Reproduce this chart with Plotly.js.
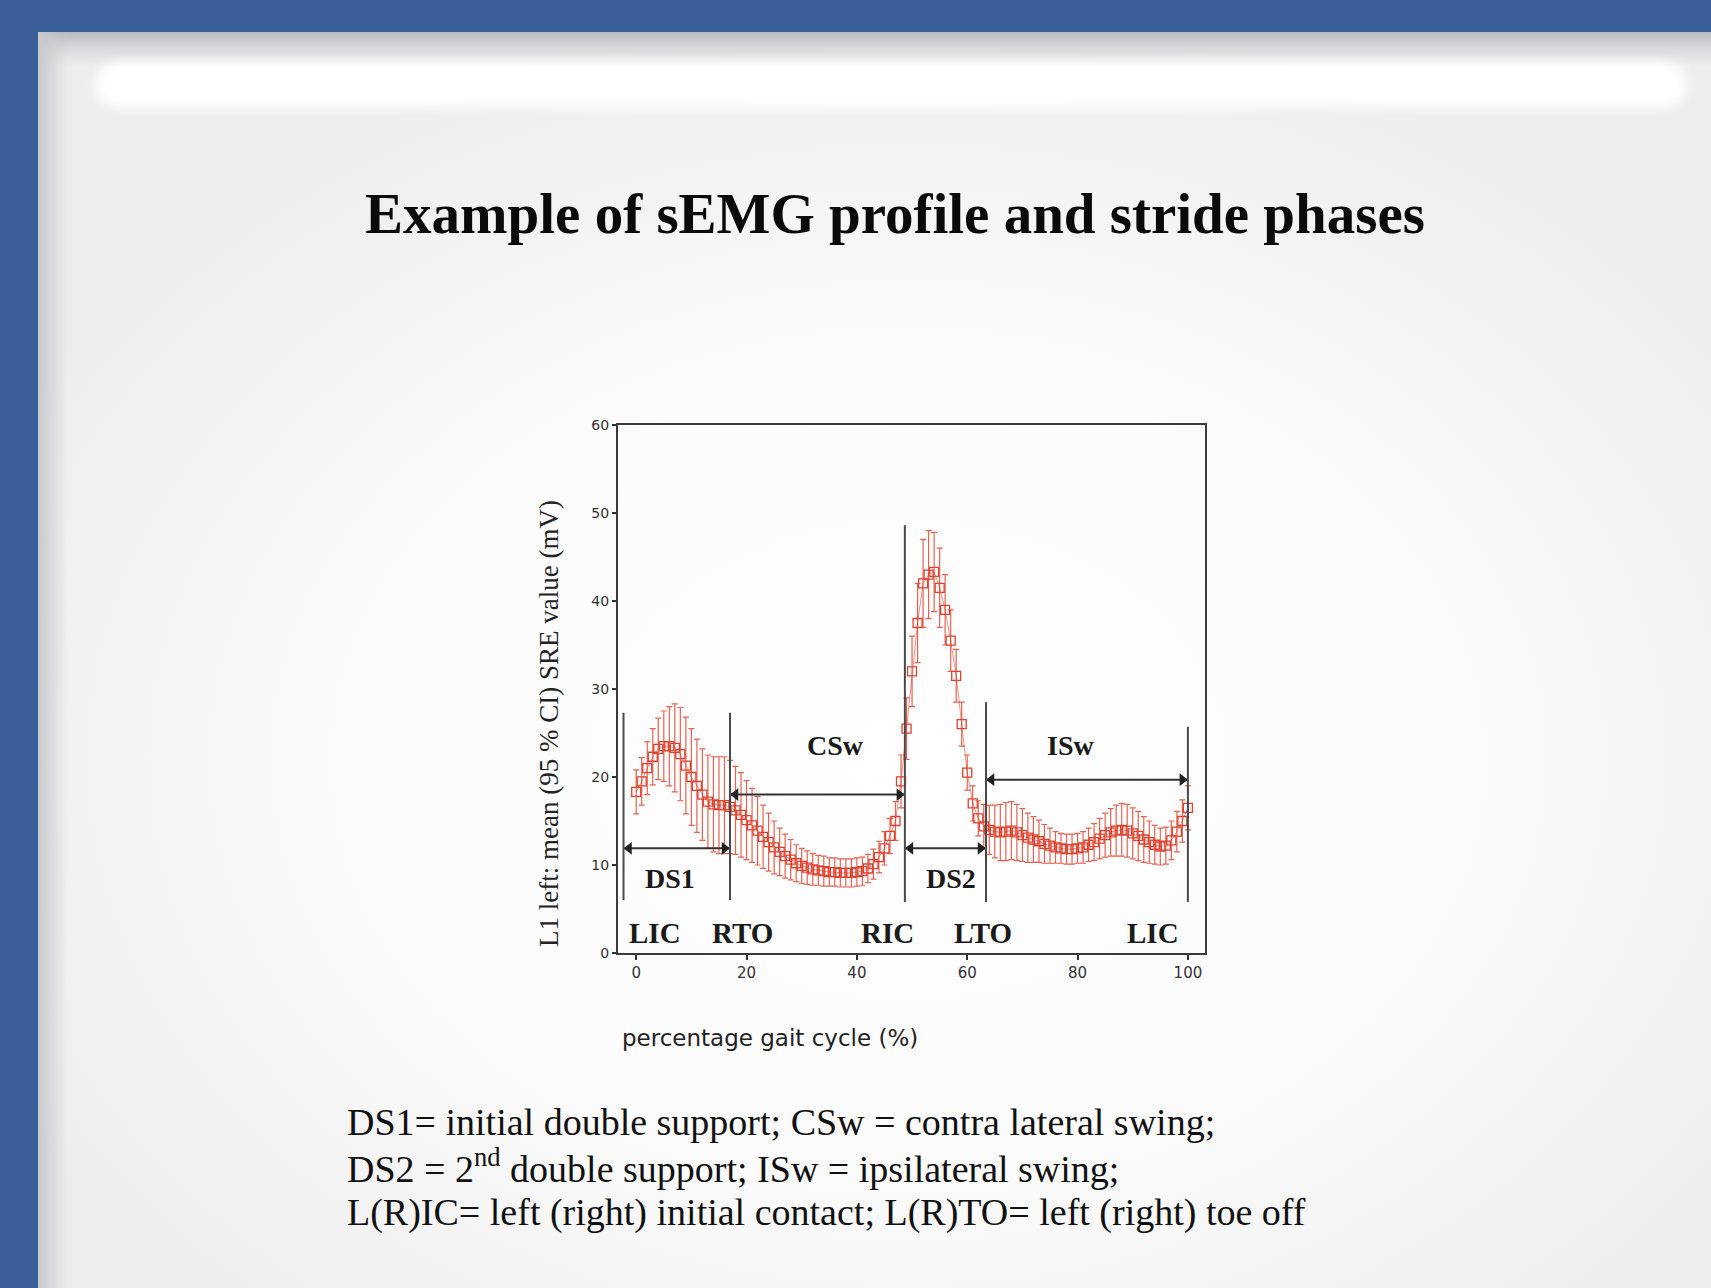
<!DOCTYPE html>
<html>
<head>
<meta charset="utf-8">
<script src="https://cdn.plot.ly/plotly-3.0.1.min.js"></script>
<style>
html,body{margin:0;padding:0;width:1711px;height:1288px;overflow:hidden;background:#3a5e99;}
#slide{position:absolute;left:38px;top:32px;right:0;bottom:0;
 background:radial-gradient(ellipse 60% 60% at 52% 58%, #ffffff 0%, #fbfbfb 55%, #ededed 100%);}
#topshade{position:absolute;left:38px;top:32px;right:0;height:34px;
 background:linear-gradient(to bottom,#b7b8c1 0%,#d8d8da 45%,rgba(235,235,235,0) 100%);}
#leftshade{position:absolute;left:38px;top:32px;width:30px;bottom:0;
 background:linear-gradient(to right,#c9c9cd 0%,rgba(236,236,236,0) 100%);}
#strip{position:absolute;left:95px;top:62px;width:1592px;height:46px;background:#ffffff;border-radius:22px;filter:blur(6px);}
#chart{position:absolute;left:0;top:0;width:1711px;height:1288px;}
</style>
</head>
<body>
<div id="slide"></div>
<div id="topshade"></div>
<div id="leftshade"></div>
<div id="strip"></div>
<div id="chart"></div>
<script>
// ---- data ----
const gaitCyclePct = [0,1,2,3,4,5,6,7,8,9,10,11,12,13,14,15,16,17,18,19,20,
 21,22,23,24,25,26,27,28,29,30,31,32,33,34,35,36,37,38,39,40,
 41,42,43,44,45,46,47,48,49,50,51,52,53,54,55,56,57,58,59,60,
 61,62,63,64,65,66,67,68,69,70,71,72,73,74,75,76,77,78,79,80,
 81,82,83,84,85,86,87,88,89,90,91,92,93,94,95,96,97,98,99,100];
const meanSRE = [18.3,19.5,21.0,22.3,23.2,23.5,23.5,23.3,22.6,21.3,20.0,
 19.0,18.0,17.2,16.9,16.8,16.8,16.6,16.2,15.7,15.1,
 14.5,13.9,13.2,12.6,12.0,11.5,11.0,10.6,10.2,9.9,
 9.7,9.5,9.4,9.3,9.2,9.2,9.1,9.1,9.1,9.2,
 9.3,9.6,10.1,10.9,11.9,13.3,15.0,19.5,25.5,32.0,
 37.5,42.0,43.0,43.3,41.5,39.0,35.5,31.5,26.0,20.5,
 17.0,15.3,14.4,14.0,13.8,13.7,13.8,13.9,13.7,13.4,
 13.1,12.9,12.7,12.4,12.2,12.0,11.9,11.8,11.8,11.9,
 12.0,12.3,12.6,13.0,13.4,13.7,13.9,14.0,13.9,13.6,
 13.3,12.9,12.6,12.3,12.1,12.2,12.8,13.8,15.0,16.5];
const ci95 = [2.5,2.7,3.0,3.2,3.5,4.0,4.5,5.0,5.3,5.5,5.5,
 5.3,5.2,5.3,5.4,5.5,5.5,5.3,5.0,4.8,4.5,
 4.2,3.9,3.6,3.3,3.0,2.7,2.5,2.3,2.1,2.0,
 1.9,1.8,1.7,1.7,1.6,1.6,1.6,1.6,1.6,1.6,
 1.6,1.6,1.7,1.8,1.9,2.0,2.2,3.0,3.5,4.0,
 4.5,5.0,5.0,4.5,4.5,4.0,3.5,3.0,2.5,2.0,
 2.0,2.0,2.5,2.8,3.0,3.2,3.3,3.3,3.2,3.0,
 2.8,2.6,2.4,2.2,2.0,1.8,1.7,1.7,1.7,1.7,
 1.8,1.9,2.1,2.3,2.5,2.7,2.9,3.0,3.0,2.9,
 2.8,2.6,2.4,2.2,2.1,2.1,2.2,2.3,2.4,2.5];
// gait events (vertical markers)
const eventNames = ["LIC","RTO","RIC","LTO","LIC"];
const eventX = [-2.3, 17, 48.7, 63.4, 100];
const eventTop = [27.3, 27.3, 48.6, 28.5, 25.7];
const eventBottom = [6, 6, 5.8, 5.8, 5.8];
// phases (double arrows)
const phaseNames = ["DS1","CSw","DS2","ISw"];
const phaseStart = [-2.3, 17, 48.7, 63.4];
const phaseEnd = [17, 48.7, 63.4, 100];
const phaseArrowY = [11.9, 18.0, 11.9, 19.7];
const xTicks = [0,20,40,60,80,100];
const yTicks = [0,10,20,30,40,50,60];

// ---- layout helpers (pixel geometry) ----
const L=618, R=1205, T=425, B=953;
const px = x => (x-L)/(R-L);
const py = y => (B-y)/(B-T);
const unitX = (R-L)/(103.1+3.3);   // pixels per x unit
const headSize = 11;
const headOff = (headSize/2)/unitX; // pull marker centres inside so the tips touch the lines

const traces = [];
traces.push({
  x: gaitCyclePct, y: meanSRE, type:'scatter', mode:'lines+markers',
  line:{color:'rgba(225,55,35,0.55)', width:1},
  marker:{symbol:'square-open', size:9, color:'#e0402c', line:{width:1.3, color:'#e0402c'}},
  error_y:{type:'data', array:ci95, visible:true, color:'rgba(226,72,52,0.85)', thickness:1.2, width:3},
  showlegend:false, hoverinfo:'x+y'
});
// double-headed phase arrows
phaseNames.forEach((n,i)=>{
  traces.push({x:[phaseStart[i], phaseEnd[i]], y:[phaseArrowY[i], phaseArrowY[i]], type:'scatter', mode:'lines',
    line:{color:'#333', width:2}, showlegend:false, hoverinfo:'skip'});
  traces.push({x:[phaseStart[i]+headOff, phaseEnd[i]-headOff], y:[phaseArrowY[i], phaseArrowY[i]], type:'scatter', mode:'markers',
    marker:{symbol:['triangle-left','triangle-right'], size:headSize, color:'#222', line:{width:0}}, showlegend:false, hoverinfo:'skip'});
});

const shapes = eventX.map((x,i)=>({type:'line', xref:'x', yref:'y', x0:x, x1:x, y0:eventBottom[i], y1:eventTop[i],
  line:{color:'#4a4a4a', width:2}, layer:'above'}));

const annotations = [];
const phaseLabelX = [6.2, 36.2, 57.1, 78.8];
const phaseLabelY = [8.5, 23.6, 8.5, 23.6];
phaseNames.forEach((n,i)=>{
  annotations.push({xref:'x', yref:'y', x:phaseLabelX[i], y:phaseLabelY[i], text:'<b>'+n+'</b>', showarrow:false,
    font:{family:'Liberation Serif, Times New Roman, serif', size:28, color:'#1a1a1a'}});
});
const eventLabelX = [3.4, 19.2, 45.5, 62.9, 93.7];
eventNames.forEach((n,i)=>{
  annotations.push({xref:'x', yref:'y', x:eventLabelX[i], y:2.3, text:'<b>'+n+'</b>', showarrow:false,
    font:{family:'Liberation Serif, Times New Roman, serif', size:29, color:'#1a1a1a'}});
});
// axis titles
annotations.push({xref:'paper', yref:'paper', x:px(549), y:py(724), text:'L1 left: mean (95 % CI) SRE value (mV)', textangle:-90,
  showarrow:false, xanchor:'center', yanchor:'middle', font:{family:'Liberation Serif, Times New Roman, serif', size:27, color:'#222'}});
annotations.push({xref:'paper', yref:'paper', x:px(770), y:py(1038), text:'percentage gait cycle (%)',
  showarrow:false, xanchor:'center', yanchor:'middle', font:{family:'DejaVu Sans, sans-serif', size:23, color:'#222'}});
// footnote
const notes = ["DS1= initial double support; CSw = contra lateral swing;",
  "DS2 = 2<sup>nd</sup> double support; ISw = ipsilateral swing;",
  "L(R)IC= left (right) initial contact; L(R)TO= left (right) toe off"];
const noteY = [1122, 1166, 1212];
notes.forEach((t,i)=>{
  annotations.push({xref:'paper', yref:'paper', x:px(345), y:py(noteY[i]), text:t, showarrow:false, xanchor:'left', yanchor:'middle', align:'left',
    font:{family:'Liberation Serif, Times New Roman, serif', size:38, color:'#111'}});
});

const layout = {
  width:1711, height:1288,
  margin:{l:L, r:1711-R, t:T, b:1288-B, pad:0},
  paper_bgcolor:'rgba(0,0,0,0)', plot_bgcolor:'rgba(0,0,0,0)',
  title:{text:'<b>Example of sEMG profile and stride phases</b>', xref:'container', yref:'container',
    x:895/1711, y:1-213/1288, xanchor:'center', yanchor:'middle',
    font:{family:'Liberation Serif, Times New Roman, serif', size:57, color:'#0a0a0a'}},
  xaxis:{range:[-3.3,103.1], tickvals:xTicks, ticks:'outside', ticklen:5, tickwidth:2, tickcolor:'#333',
    showline:true, linecolor:'#3a3a3a', linewidth:2, mirror:true, showgrid:false, zeroline:false,
    tickfont:{family:'DejaVu Sans, sans-serif', size:15, color:'#333'}},
  yaxis:{range:[0,60], tickvals:yTicks, ticks:'outside', ticklen:4, tickwidth:2, tickcolor:'#333',
    showline:true, linecolor:'#3a3a3a', linewidth:2, mirror:true, showgrid:false, zeroline:false,
    tickfont:{family:'DejaVu Sans, sans-serif', size:14, color:'#333'}},
  shapes:shapes, annotations:annotations, showlegend:false
};
Plotly.newPlot('chart',traces,layout,{displayModeBar:false, staticPlot:true});
</script>
</body>
</html>
